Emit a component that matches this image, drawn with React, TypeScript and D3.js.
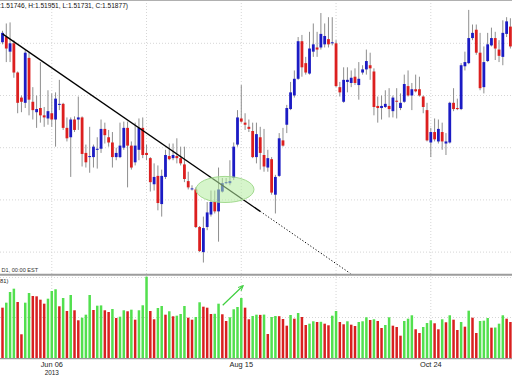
import React from 'react';
import * as d3 from 'd3';

const W = 512;
const H = 375;

// daily bars, 20 May 2013 .. 22 Nov 2013 (weekdays only)
const firstDay = new Date(2013, 4, 20);
const endDay = new Date(2013, 10, 23);

const open = [
  1.5201, 1.5206, 1.5192, 1.5200, 1.5172, 1.5148, 1.5143, 1.5186, 1.5144, 1.5134,
  1.5138, 1.5131, 1.5128, 1.5133, 1.5127, 1.5141, 1.5142, 1.5119, 1.5110, 1.5127,
  1.5127, 1.5129, 1.5095, 1.5091, 1.5091, 1.5098, 1.5099, 1.5118, 1.5110, 1.5105,
  1.5091, 1.5091, 1.5100, 1.5119, 1.5102, 1.5086, 1.5098, 1.5119, 1.5095, 1.5090,
  1.5065, 1.5073, 1.5046, 1.5072, 1.5092, 1.5090, 1.5092, 1.5090, 1.5084, 1.5068,
  1.5061, 1.5060, 1.5024, 1.5000, 1.5024, 1.5036, 1.5048, 1.5039, 1.5058, 1.5066,
  1.5066, 1.5071, 1.5103, 1.5128, 1.5124, 1.5120, 1.5116, 1.5091, 1.5110, 1.5093,
  1.5081, 1.5089, 1.5055, 1.5073, 1.5107, 1.5122, 1.5137, 1.5150, 1.5166, 1.5202,
  1.5181, 1.5171, 1.5192, 1.5196, 1.5196, 1.5199, 1.5204, 1.5200, 1.5200, 1.5158,
  1.5144, 1.5163, 1.5162, 1.5168, 1.5160, 1.5172, 1.5175, 1.5179, 1.5173, 1.5140,
  1.5138, 1.5139, 1.5140, 1.5135, 1.5145, 1.5138, 1.5144, 1.5159, 1.5150, 1.5156,
  1.5156, 1.5149, 1.5136, 1.5105, 1.5115, 1.5106, 1.5115, 1.5104, 1.5105, 1.5143,
  1.5138, 1.5137, 1.5178, 1.5181, 1.5205, 1.5213, 1.5191, 1.5158, 1.5183, 1.5198,
  1.5205, 1.5194, 1.5187, 1.5209, 1.5216,
];
const high = [
  1.5212, 1.5219, 1.5220, 1.5203, 1.5173, 1.5150, 1.5194, 1.5191, 1.5158, 1.5150,
  1.5182, 1.5139, 1.5155, 1.5152, 1.5153, 1.5165, 1.5143, 1.5129, 1.5129, 1.5130,
  1.5149, 1.5130, 1.5103, 1.5120, 1.5103, 1.5110, 1.5127, 1.5124, 1.5117, 1.5115,
  1.5100, 1.5124, 1.5125, 1.5125, 1.5106, 1.5124, 1.5128, 1.5129, 1.5103, 1.5091,
  1.5085, 1.5083, 1.5079, 1.5098, 1.5104, 1.5104, 1.5109, 1.5101, 1.5101, 1.5077,
  1.5064, 1.5062, 1.5025, 1.5034, 1.5048, 1.5059, 1.5059, 1.5081, 1.5071, 1.5071,
  1.5088, 1.5105, 1.5136, 1.5160, 1.5133, 1.5127, 1.5124, 1.5124, 1.5120, 1.5118,
  1.5098, 1.5091, 1.5074, 1.5114, 1.5119, 1.5141, 1.5163, 1.5174, 1.5206, 1.5208,
  1.5187, 1.5211, 1.5219, 1.5211, 1.5229, 1.5219, 1.5225, 1.5225, 1.5203, 1.5163,
  1.5177, 1.5177, 1.5174, 1.5176, 1.5182, 1.5179, 1.5194, 1.5191, 1.5176, 1.5149,
  1.5150, 1.5155, 1.5157, 1.5150, 1.5157, 1.5152, 1.5170, 1.5174, 1.5162, 1.5170,
  1.5168, 1.5150, 1.5143, 1.5119, 1.5128, 1.5127, 1.5124, 1.5114, 1.5144, 1.5157,
  1.5147, 1.5181, 1.5192, 1.5232, 1.5218, 1.5218, 1.5210, 1.5197, 1.5210, 1.5215,
  1.5211, 1.5203, 1.5222, 1.5225, 1.5224,
];
const low = [
  1.5199, 1.5182, 1.5182, 1.5167, 1.5133, 1.5134, 1.5138, 1.5131, 1.5127, 1.5119,
  1.5124, 1.5120, 1.5122, 1.5120, 1.5101, 1.5136, 1.5117, 1.5106, 1.5072, 1.5115,
  1.5117, 1.5082, 1.5081, 1.5076, 1.5081, 1.5080, 1.5095, 1.5104, 1.5101, 1.5081,
  1.5088, 1.5090, 1.5098, 1.5062, 1.5079, 1.5083, 1.5088, 1.5090, 1.5088, 1.5058,
  1.5059, 1.5040, 1.5034, 1.5070, 1.5088, 1.5088, 1.5085, 1.5083, 1.5067, 1.5060,
  1.5059, 1.5023, 1.5000, 1.4990, 1.5021, 1.5034, 1.5037, 1.5010, 1.5057, 1.5065,
  1.5064, 1.5069, 1.5101, 1.5124, 1.5117, 1.5115, 1.5090, 1.5085, 1.5079, 1.5077,
  1.5077, 1.5055, 1.5037, 1.5072, 1.5101, 1.5114, 1.5136, 1.5148, 1.5165, 1.5168,
  1.5170, 1.5170, 1.5187, 1.5187, 1.5194, 1.5196, 1.5196, 1.5198, 1.5158, 1.5149,
  1.5143, 1.5153, 1.5158, 1.5160, 1.5146, 1.5170, 1.5170, 1.5165, 1.5131, 1.5124,
  1.5127, 1.5138, 1.5129, 1.5129, 1.5128, 1.5136, 1.5143, 1.5149, 1.5136, 1.5153,
  1.5149, 1.5133, 1.5106, 1.5091, 1.5106, 1.5104, 1.5098, 1.5093, 1.5104, 1.5135,
  1.5136, 1.5136, 1.5174, 1.5180, 1.5203, 1.5189, 1.5155, 1.5152, 1.5182, 1.5197,
  1.5184, 1.5182, 1.5179, 1.5206, 1.5195,
];
const close = [
  1.5210, 1.5195, 1.5200, 1.5172, 1.5143, 1.5144, 1.5191, 1.5146, 1.5136, 1.5137,
  1.5131, 1.5129, 1.5135, 1.5127, 1.5147, 1.5142, 1.5119, 1.5109, 1.5127, 1.5117,
  1.5129, 1.5094, 1.5086, 1.5092, 1.5101, 1.5099, 1.5118, 1.5112, 1.5105, 1.5091,
  1.5095, 1.5102, 1.5119, 1.5102, 1.5081, 1.5102, 1.5119, 1.5093, 1.5093, 1.5067,
  1.5072, 1.5047, 1.5073, 1.5093, 1.5089, 1.5093, 1.5090, 1.5085, 1.5070, 1.5062,
  1.5061, 1.5024, 1.5001, 1.5023, 1.5038, 1.5048, 1.5039, 1.5060, 1.5066, 1.5067,
  1.5068, 1.5101, 1.5129, 1.5125, 1.5122, 1.5118, 1.5091, 1.5113, 1.5095, 1.5082,
  1.5090, 1.5057, 1.5072, 1.5109, 1.5102, 1.5138, 1.5153, 1.5166, 1.5202, 1.5177,
  1.5172, 1.5195, 1.5199, 1.5194, 1.5209, 1.5207, 1.5199, 1.5201, 1.5159, 1.5153,
  1.5165, 1.5165, 1.5167, 1.5162, 1.5166, 1.5175, 1.5183, 1.5176, 1.5139, 1.5138,
  1.5140, 1.5142, 1.5137, 1.5148, 1.5144, 1.5143, 1.5161, 1.5150, 1.5156, 1.5154,
  1.5150, 1.5139, 1.5107, 1.5115, 1.5108, 1.5118, 1.5106, 1.5106, 1.5143, 1.5137,
  1.5137, 1.5179, 1.5182, 1.5205, 1.5210, 1.5191, 1.5157, 1.5182, 1.5199, 1.5205,
  1.5195, 1.5188, 1.5210, 1.5221, 1.5197,
];
const volume = [
  12580, 13830, 16500, 17330, 14000, 5930, 13830, 16250, 15500, 15420,
  14580, 13580, 14830, 16750, 17180, 12930, 15000, 11750, 15750, 11930,
  9430, 10080, 10830, 15750, 12000, 13080, 13150, 11930, 11500, 12250,
  10000, 10330, 11930, 11680, 12080, 9580, 11930, 13180, 20330, 11750,
  9680, 12500, 13000, 10830, 11680, 10430, 10580, 11000, 13000, 10080,
  9580, 10250, 13930, 12830, 12580, 11000, 11050, 13580, 10930, 9250,
  10180, 12180, 12750, 15000, 12580, 9680, 10500, 10830, 10780, 10850,
  6000, 10250, 10500, 10450, 9750, 8080, 10750, 9830, 11250, 10250,
  8250, 8580, 9180, 9000, 9050, 8580, 8180, 10580, 11750, 9000,
  8430, 9180, 8330, 8000, 9000, 9180, 10180, 9500, 9680, 9250,
  7500, 8250, 10180, 8080, 7750, 5580, 9250, 9830, 10680, 7180,
  6250, 7750, 8750, 9430, 8680, 7180, 9680, 8930, 10680, 9580,
  7000, 9000, 7830, 11830, 10080, 6250, 9250, 9330, 10000, 7580,
  7620, 8580, 10680, 9830, 9000,
];

const priceGrid = [1.5, 1.505, 1.51, 1.515, 1.52];
const volumeGrid = [10000, 20000];
const gridDates = [
  new Date(2013, 5, 6), new Date(2013, 6, 11), new Date(2013, 7, 15),
  new Date(2013, 8, 19), new Date(2013, 9, 24),
];
const dateLabels = ['Jun 06', '', 'Aug 15', '', 'Oct 24'];
const yearLabels = ['2013', '', '', '', ''];

// annotations
const trendFrom = { bar: 0, price: 1.5209 };
const trendTo = { bar: 68, price: 1.5039 };
const trendProjectTo = 92.6;
const breakout = { bar: 58.7, price: 1.506, halfBars: 7.65, halfPrice: 0.00125 };
const volArrow = { fromBar: 58.1, fromVol: 13180, toBar: 63.4, toVol: 18000 };

const header = ':1.51746, H:1.51951, L:1.51731, C:1.51877)';

const BLUE = '#1b1bc4';
const RED = '#dc1f1f';
const VGREEN = '#52e04e';
const VRED = '#d82020';
const WICK = '#8e8e8e';
const GRID = '#d6d6d6';
const FONT = '"Liberation Sans", Arial, sans-serif';

const days = d3.timeDay
  .range(firstDay, endDay)
  .filter(d => d.getDay() !== 0 && d.getDay() !== 6);

export default function App() {
  const n = days.length;
  const x = d3.scaleLinear().domain([-0.5, n - 0.5]).range([0.6, 512.3]);
  const y = d3.scaleLinear().domain([1.5, 1.52]).range([252.1, 43.3]);
  const yv = d3.scaleLinear().domain([0, 20000]).range([358, 278]);

  const priceTop = 0;
  const priceBottom = 273.5;
  const bodyW = 2.8;
  const volW = 2.5;

  const gridIdx = gridDates.map(g => days.findIndex(d => +d === +g));

  // trend line + its projection
  const slope = (trendTo.price - trendFrom.price) / (trendTo.bar - trendFrom.bar);
  const projPrice = trendTo.price + slope * (trendProjectTo - trendTo.bar);

  const ax1 = x(volArrow.fromBar), ay1 = yv(volArrow.fromVol);
  const ax2 = x(volArrow.toBar), ay2 = yv(volArrow.toVol);

  return (
    <svg width={W} height={H} style={{ position: 'absolute', left: 0, top: 0, background: '#fff' }}
      fontFamily={FONT}>
      <defs>
        <clipPath id="pricePane">
          <rect x={0} y={priceTop} width={W} height={priceBottom - priceTop} />
        </clipPath>
        <marker id="arrowHead" viewBox="0 0 10 10" refX="8" refY="5" markerWidth="5" markerHeight="5"
          orient="auto">
          <path d="M0,1 L9,5 L0,9" fill="none" stroke="#3fcf3f" strokeWidth="1.6" />
        </marker>
      </defs>
      <rect width={W} height={H} fill="#fff" />

      {/* grid */}
      {priceGrid.map(p => (
        <line key={'pg' + p} x1={0} x2={W} y1={y(p)} y2={y(p)} stroke={GRID} strokeDasharray="1,2" />
      ))}
      {volumeGrid.map(v => (
        <line key={'vg' + v} x1={0} x2={W} y1={yv(v) - 0.5} y2={yv(v) - 0.5} stroke={GRID}
          strokeDasharray="1,2" />
      ))}
      {gridIdx.map(i => (
        <line key={'xg' + i} x1={x(i)} x2={x(i)} y1={0} y2={358} stroke={GRID} strokeDasharray="1,2" />
      ))}

      {/* candles */}
      <g clipPath="url(#pricePane)">
        {days.map((d, i) => {
          const up = close[i] >= open[i];
          const top = y(Math.max(open[i], close[i]));
          const bot = y(Math.min(open[i], close[i]));
          const cx = x(i);
          return (
            <g key={'c' + i}>
              <line x1={cx} x2={cx} y1={y(high[i])} y2={y(low[i])} stroke={WICK} strokeWidth={1} />
              <rect x={cx - bodyW / 2} y={top} width={bodyW} height={Math.max(1, bot - top)}
                fill={up ? BLUE : RED} />
            </g>
          );
        })}

        {/* trend line */}
        <line x1={x(trendFrom.bar)} y1={y(trendFrom.price)} x2={x(trendTo.bar)} y2={y(trendTo.price)}
          stroke="#000" strokeWidth={1.3} />
        <line x1={x(trendTo.bar)} y1={y(trendTo.price)} x2={x(trendProjectTo)} y2={y(projPrice)}
          stroke="#000" strokeWidth={1} strokeDasharray="1.2,2" />

        <ellipse cx={x(breakout.bar)} cy={y(breakout.price)}
          rx={x(breakout.bar + breakout.halfBars) - x(breakout.bar)}
          ry={y(breakout.price - breakout.halfPrice) - y(breakout.price)}
          fill="rgba(180,236,160,0.55)" stroke="#a3da90" strokeWidth={1} />
      </g>

      {/* volumes */}
      {volume.map((v, i) => {
        const rising = i > 0 && v > volume[i - 1];
        return (
          <rect key={'v' + i} x={x(i) - volW / 2} y={yv(v)} width={volW} height={358 - yv(v)}
            fill={rising ? VGREEN : VRED} />
        );
      })}
      <line x1={ax1} y1={ay1} x2={ax2} y2={ay2} stroke="#3fcf3f" strokeWidth={1.2}
        markerEnd="url(#arrowHead)" />

      {/* frame */}
      <line x1={0} x2={W} y1={0.5} y2={0.5} stroke="#b0b0b0" />
      <line x1={0} x2={W} y1={274.7} y2={274.7} stroke="#9c9c9c" strokeWidth={2} />
      <line x1={0} x2={W} y1={358.6} y2={358.6} stroke="#9a9a9a" strokeWidth={1.2} />

      {/* texts */}
      <text x={-1} y={7.6} fontSize={6.6} fill="#111">{header}</text>
      <text x={1.5} y={271.5} fontSize={5.6} fill="#333">D1, 00:00 EST</text>
      <text x={0} y={282.6} fontSize={5.8} fill="#222">81)</text>
      {gridIdx.map((i, k) => (
        <g key={'lab' + i}>
          <text x={x(i)} y={367.4} fontSize={7.4} textAnchor="middle" fill="#222">{dateLabels[k]}</text>
          <text x={x(i)} y={374.6} fontSize={6.4} textAnchor="middle" fill="#222">{yearLabels[k]}</text>
        </g>
      ))}
    </svg>
  );
}
